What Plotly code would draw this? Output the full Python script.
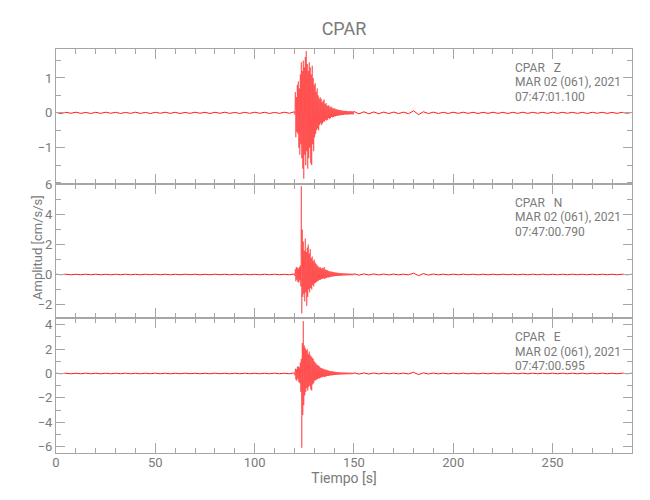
import numpy as np
import plotly.graph_objects as go
from plotly.subplots import make_subplots

# ---------------- data ----------------
station = "CPAR"
components = ["Z", "N", "E"]
date_label = "MAR 02 (061), 2021"
start_times = ["07:47:01.100", "07:47:00.790", "07:47:00.595"]

x_ticks = [0, 50, 100, 150, 200, 250]
y_ticks = [[-1, 0, 1], [-2, 0, 2, 4, 6], [-6, -4, -2, 0, 2, 4]]
y_ranges = [[-2.03, 1.83], [-2.93, 6.07], [-6.53, 4.53]]
x_range = [0, 290]

pre_t0, pre_dt = 0.0, 2.5
main_t0, main_dt = 120.0, 0.25
coda_t0, coda_dt = 152.5, 2.5

z_pre = [0.012, -0.018, 0.015, -0.012, 0.018, -0.015, 0.012, -0.018, 0.015, -0.015,
         0.018, -0.012, 0.015, -0.018, 0.012, -0.015, 0.018, -0.015, 0.012, -0.018,
         0.015, -0.012, 0.018, -0.015, 0.015, -0.018, 0.012, -0.015, 0.018, -0.012,
         0.015, -0.018, 0.015, -0.012, 0.018, -0.015, 0.012, -0.018, 0.015, -0.015,
         0.018, -0.012, 0.015, -0.018, 0.012, -0.015, 0.018, -0.012]
z_main = [0.03, -0.05, 0.6, -0.7, 0.45, -0.55, 0.8, -0.6, 0.9, -1.0,
          0.7, -1.2, 1.1, -0.9, 1.45, -1.3, 1.2, -1.6, 1.5, -1.89,
          1.3, -1.2, 1.6, -1.5, 1.77, -1.1, 1.4, -1.6, 1.2, -1.3,
          1.45, -1.0, 1.3, -1.45, 1.1, -1.5, 1.35, -0.9, 1.0, -1.1,
          0.8, -0.7, 0.85, -0.6, 0.6, -0.5, 0.7, -0.45, 0.5, -0.5,
          0.4, -0.35, 0.45, -0.3, 0.4, -0.35, 0.3, -0.3, 0.35, -0.25,
          0.38, -0.25, 0.25, -0.2, 0.28, -0.22, 0.2, -0.2, 0.22, -0.15,
          0.2, -0.18, 0.15, -0.15, 0.18, -0.12, 0.15, -0.13, 0.12, -0.12,
          0.13, -0.1, 0.12, -0.1, 0.1, -0.09, 0.1, -0.08, 0.09, -0.08,
          0.08, -0.07, 0.08, -0.07, 0.07, -0.06, 0.07, -0.06, 0.06, -0.06,
          0.06, -0.05, 0.055, -0.05, 0.06, -0.045, 0.05, -0.05, 0.045, -0.05,
          0.05, -0.04, 0.045, -0.045, 0.05, -0.04, 0.04, -0.045, 0.045, -0.04, 0.04]
z_coda = [-0.03, 0.03, -0.028, 0.025, -0.025, 0.022, -0.02, 0.022, -0.02, 0.02,
          -0.025, 0.06, -0.05, 0.03, -0.02, 0.02, -0.018, 0.015, -0.018, 0.018,
          -0.015, 0.018, -0.015, 0.015, -0.018, 0.015, -0.015, 0.018, -0.015, 0.015,
          -0.018, 0.015, -0.015, 0.018, -0.015, 0.015, -0.012, 0.015, -0.015, 0.018,
          -0.015, 0.015, -0.012, 0.015, -0.015, 0.015, -0.018, 0.015, -0.012, 0.015,
          -0.015, 0.012, -0.015, 0.015, -0.012, 0.012]

n_pre = [0.02, -0.015, 0.018, -0.02, 0.015, -0.018, 0.02, -0.015, 0.018, -0.02,
         0.015, -0.02, 0.018, -0.015, 0.02, -0.018, 0.015, -0.02, 0.018, -0.015,
         0.02, -0.018, 0.015, -0.02, 0.018, -0.018, 0.02, -0.015, 0.018, -0.02,
         0.015, -0.018, 0.02, -0.015, 0.018, -0.02, 0.015, -0.018, 0.02, -0.018,
         0.015, -0.02, 0.018, -0.015, 0.02, -0.018, 0.015, -0.02]
n_main = [0.04, -0.1, 0.35, -0.45, 0.5, -0.35, 0.45, -0.5, 0.4, -0.55,
          0.5, -0.4, 0.6, -0.8, 5.9, -2.6, 3.0, -1.5, 2.2, -1.3,
          1.6, -1.8, 2.4, -1.2, 1.5, -2.1, 1.8, -1.5, 2.0, -1.0,
          1.4, -1.2, 1.7, -0.9, 1.1, -1.0, 1.2, -0.7, 0.9, -0.8,
          1.0, -0.6, 0.8, -0.55, 0.7, -0.5, 0.6, -0.45, 0.55, -0.4,
          0.45, -0.35, 0.5, -0.35, 0.4, -0.3, 0.45, -0.3, 0.4, -0.25,
          0.5, -0.3, 0.35, -0.25, 0.3, -0.22, 0.3, -0.2, 0.25, -0.2,
          0.22, -0.18, 0.2, -0.15, 0.2, -0.15, 0.18, -0.14, 0.16, -0.12,
          0.15, -0.12, 0.14, -0.1, 0.13, -0.1, 0.12, -0.1, 0.11, -0.09,
          0.1, -0.09, 0.1, -0.08, 0.09, -0.08, 0.09, -0.07, 0.08, -0.07,
          0.08, -0.07, 0.07, -0.06, 0.07, -0.06, 0.065, -0.06, 0.06, -0.055,
          0.06, -0.05, 0.06, -0.05, 0.055, -0.05, 0.05, -0.05, 0.05, -0.045, 0.05]
n_coda = [-0.045, 0.04, -0.035, 0.035, -0.03, 0.03, -0.028, 0.025, -0.025, 0.025,
          -0.03, 0.09, -0.08, 0.06, -0.04, 0.03, -0.025, 0.02, -0.025, 0.02,
          -0.02, 0.025, -0.02, 0.02, -0.025, 0.02, -0.02, 0.018, -0.02, 0.02,
          -0.018, 0.02, -0.02, 0.018, -0.02, 0.02, -0.018, 0.02, -0.02, 0.018,
          -0.02, 0.018, -0.018, 0.02, -0.018, 0.018, -0.02, 0.018, -0.018, 0.02,
          -0.018, 0.018, -0.02, 0.018, -0.018, 0.015]

e_pre = [0.025, -0.02, 0.022, -0.025, 0.02, -0.022, 0.025, -0.02, 0.022, -0.025,
         0.02, -0.025, 0.022, -0.02, 0.025, -0.022, 0.02, -0.025, 0.022, -0.02,
         0.025, -0.022, 0.02, -0.025, 0.022, -0.022, 0.025, -0.02, 0.022, -0.025,
         0.02, -0.022, 0.025, -0.02, 0.022, -0.025, 0.02, -0.022, 0.025, -0.022,
         0.02, -0.025, 0.022, -0.02, 0.025, -0.022, 0.02, -0.025]
e_main = [0.05, -0.15, 0.4, -0.5, 0.35, -0.6, 0.55, -0.45, 0.6, -0.7,
          0.5, -0.8, 0.9, -1.5, 1.2, -6.1, 2.5, -3.4, 4.3, -2.6,
          2.3, -1.8, 2.1, -1.5, 1.9, -1.2, 2.0, -1.4, 1.6, -1.1,
          1.8, -1.0, 1.5, -1.3, 1.4, -1.4, 1.3, -0.9, 1.2, -0.8,
          1.0, -0.6, 0.9, -0.55, 0.8, -0.5, 0.7, -0.45, 0.65, -0.4,
          0.6, -0.4, 0.5, -0.35, 0.45, -0.3, 0.4, -0.3, 0.4, -0.25,
          0.35, -0.3, 0.3, -0.25, 0.32, -0.22, 0.28, -0.2, 0.25, -0.2,
          0.22, -0.18, 0.2, -0.16, 0.2, -0.15, 0.18, -0.15, 0.16, -0.13,
          0.15, -0.12, 0.14, -0.12, 0.13, -0.11, 0.12, -0.1, 0.11, -0.1,
          0.1, -0.09, 0.1, -0.09, 0.09, -0.08, 0.09, -0.08, 0.08, -0.08,
          0.08, -0.07, 0.08, -0.07, 0.075, -0.07, 0.07, -0.065, 0.07, -0.06,
          0.07, -0.06, 0.065, -0.06, 0.06, -0.06, 0.06, -0.055, 0.06, -0.05, 0.06]
e_coda = [-0.05, 0.045, -0.04, 0.04, -0.035, 0.035, -0.03, 0.03, -0.03, 0.028,
          -0.035, 0.1, -0.09, 0.05, -0.035, 0.03, -0.028, 0.025, -0.028, 0.025,
          -0.025, 0.028, -0.025, 0.025, -0.028, 0.025, -0.025, 0.028, -0.025, 0.025,
          -0.028, 0.025, -0.025, 0.028, -0.025, 0.025, -0.022, 0.025, -0.025, 0.028,
          -0.025, 0.025, -0.022, 0.025, -0.025, 0.025, -0.028, 0.025, -0.022, 0.025,
          -0.025, 0.022, -0.025, 0.025, -0.022, 0.022]

traces = [(z_pre, z_main, z_coda), (n_pre, n_main, n_coda), (e_pre, e_main, e_coda)]

# ---------------- figure ----------------
FONT = "Roboto, Liberation Sans, sans-serif"
GRAY = "#a6a6a6"
TEXT = "#7a7a7a"
RED = "#ff0000"
RED_BURST = "rgba(255,0,0,0.85)"

W, H = 650, 500
ML, MR, MT, MB = 48, 26, 41, 55

fig = make_subplots(rows=3, cols=1, shared_xaxes=True, vertical_spacing=0)


def segment(t0, dt, vals):
    return t0 + dt * np.arange(len(vals))


for i, (pre, main, coda) in enumerate(traces):
    tp, tm, tc = segment(pre_t0, pre_dt, pre), segment(main_t0, main_dt, main), segment(coda_t0, coda_dt, coda)
    # quiet parts drawn slightly heavier; each joined to the burst so the trace is continuous
    parts = [(np.append(tp, tm[0]), np.append(pre, main[0]), 0.9, RED),
             (tm, np.array(main), 0.55, RED_BURST),
             (np.insert(tc, 0, tm[-1]), np.insert(np.array(coda, float), 0, main[-1]), 0.9, RED)]
    for t, y, w, c in parts:
        fig.add_trace(go.Scatter(x=t, y=y, mode="lines",
                                 line=dict(color=c, width=w),
                                 hoverinfo="skip", showlegend=False),
                      row=i + 1, col=1)

for i in range(3):
    fig.update_xaxes(range=x_range, tickvals=x_ticks, ticks="inside", ticklen=10,
                     tickcolor=GRAY, tickwidth=1, showline=True, linecolor=GRAY,
                     linewidth=1, mirror="ticks", showgrid=False, zeroline=False,
                     automargin=False, ticklabelstandoff=-3,
                     minor=dict(dtick=10, ticklen=5, ticks="inside", tickcolor=GRAY,
                                showgrid=False),
                     tickfont=dict(family=FONT, size=13, color=TEXT),
                     row=i + 1, col=1)
    fig.update_yaxes(range=y_ranges[i], tickvals=y_ticks[i], ticks="inside", ticklen=9,
                     tickcolor=GRAY, tickwidth=1, showline=True, linecolor=GRAY,
                     linewidth=1, mirror="ticks", showgrid=False, zeroline=False,
                     automargin=False,
                     minor=dict(dtick=0.5 if i == 0 else 1, ticklen=5, ticks="inside",
                                tickcolor=GRAY, showgrid=False),
                     tickfont=dict(family=FONT, size=13, color=TEXT),
                     row=i + 1, col=1)

fig.update_xaxes(title=dict(text="Tiempo [s]", font=dict(family=FONT, size=14, color=TEXT),
                            standoff=0), row=3, col=1)

plot_h = H - MT - MB
plot_w = W - ML - MR


def py(pix):
    return 1 - (pix - MT) / plot_h


annotations = []
panel_tops = [MT, MT + plot_h / 3, MT + 2 * plot_h / 3]
nb = "\u00a0"
for i in range(3):
    lines = [f"{station}{nb*3}{components[i]}", date_label, start_times[i]]
    for j, txt in enumerate(lines):
        annotations.append(dict(text=txt, xref="paper", yref="paper",
                                x=(505 - ML) / plot_w, y=py(panel_tops[i] + 19 + 14.5 * j),
                                xanchor="left", yanchor="middle", showarrow=False,
                                font=dict(family=FONT, size=12, color=TEXT)))

annotations.append(dict(text="Amplitud [cm/s/s]", xref="paper", yref="paper",
                        x=(29 - ML) / plot_w, y=py(240), textangle=-90,
                        xanchor="center", yanchor="middle", showarrow=False,
                        font=dict(family=FONT, size=13, color=TEXT)))

fig.update_layout(
    width=W, height=H,
    margin=dict(l=ML, r=MR, t=MT, b=MB, autoexpand=False),
    paper_bgcolor="white", plot_bgcolor="white",
    title=dict(text=station, x=(ML + plot_w / 2) / W, xanchor="center",
               y=1 - 21 / H, yanchor="middle",
               font=dict(family=FONT, size=18, color=TEXT)),
    annotations=annotations,
)

fig.write_html("out.html")
